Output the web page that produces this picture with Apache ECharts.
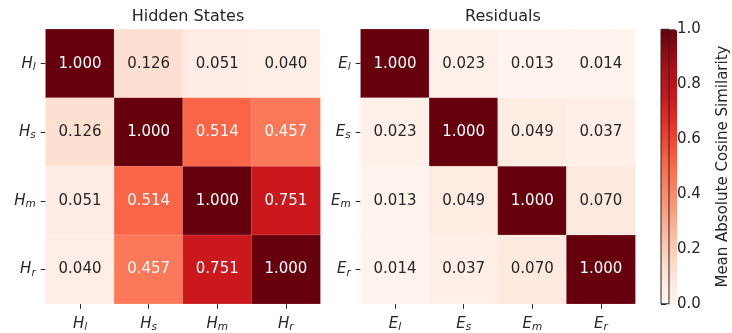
<!DOCTYPE html>
<html>
<head>
<meta charset="utf-8">
<script src="https://cdn.jsdelivr.net/npm/echarts@6/dist/echarts.min.js"></script>
<style>
  html, body { margin: 0; padding: 0; background: #fff; }
  #chart { width: 732px; height: 333px; }
</style>
</head>
<body>
<div id="chart"></div>
<script>
// Tick labels: letter + subscript, written as "Letter_sub"
const hiddenTicks = ['H_l', 'H_s', 'H_m', 'H_r'];
const residualTicks = ['E_l', 'E_s', 'E_m', 'E_r'];

// Mean absolute cosine similarity matrices (row-major, rows top to bottom)
const hiddenStates = [
  [1.000, 0.126, 0.051, 0.040],
  [0.126, 1.000, 0.514, 0.457],
  [0.051, 0.514, 1.000, 0.751],
  [0.040, 0.457, 0.751, 1.000]
];
const residuals = [
  [1.000, 0.023, 0.013, 0.014],
  [0.023, 1.000, 0.049, 0.037],
  [0.013, 0.049, 1.000, 0.070],
  [0.014, 0.037, 0.070, 1.000]
];

const panelTitles = ['Hidden States', 'Residuals'];
const colorbarTitle = 'Mean Absolute Cosine Similarity';
const colorbarMin = 0, colorbarMax = 1, colorbarStep = 0.2;

// "Reds" sequential palette
const reds = ['#fff5f0', '#fee0d2', '#fcbba1', '#fc9272', '#fb6a4a', '#ef3b2c', '#cb181d', '#a50f15', '#67000d'];

const FONT = 'DejaVu Sans';
const TEXT = '#262626';

function toCells(matrix) {
  const out = [];
  matrix.forEach((row, r) => row.forEach((v, c) => {
    out.push({
      value: [c, r, v],
      label: { color: v > 0.35 ? '#ffffff' : TEXT }
    });
  }));
  return out;
}

function tickLabel(s) {
  const [a, b] = s.split('_');
  return '{m|' + a + '}{s|' + b + '}';
}

const tickRich = {
  m: { fontFamily: FONT, fontStyle: 'italic', fontSize: 15, color: TEXT, lineHeight: 18 },
  s: { fontFamily: FONT, fontStyle: 'italic', fontSize: 10.5, color: TEXT, verticalAlign: 'bottom', lineHeight: 12 }
};

const gridTop = 29.3, gridSize = 274.5;
const grids = [
  { left: 45.7, top: gridTop, width: gridSize, height: gridSize },
  { left: 360.7, top: gridTop, width: gridSize, height: gridSize },
  { left: 661, top: gridTop, width: 16, height: gridSize, show: true, borderColor: '#222', borderWidth: 1, backgroundColor: 'transparent', z: 6 }
];

function catAxis(data, idx, isY) {
  return {
    type: 'category',
    gridIndex: idx,
    data: data,
    inverse: !!isY,
    axisLine: { show: false },
    axisTick: { show: true, alignWithLabel: true, interval: 0, length: 5, lineStyle: { color: TEXT, width: 1 } },
    axisLabel: {
      interval: 0,
      formatter: tickLabel,
      rich: tickRich,
      margin: isY ? 10 : 11
    },
    splitLine: { show: false },
    splitArea: { show: false }
  };
}

function heatSeries(matrix, idx) {
  return {
    type: 'heatmap',
    xAxisIndex: idx,
    yAxisIndex: idx,
    data: toCells(matrix),
    itemStyle: { borderColor: 'rgba(255,255,255,0.35)', borderWidth: 0.5 },
    label: {
      show: true,
      fontFamily: FONT,
      fontSize: 15,
      formatter: p => p.value[2].toFixed(3)
    },
    emphasis: { disabled: true }
  };
}

const option = {
  animation: false,
  backgroundColor: '#ffffff',
  textStyle: { fontFamily: FONT },
  title: panelTitles.map((t, i) => ({
    text: t,
    left: grids[i].left + gridSize / 2,
    top: 4,
    textAlign: 'center',
    textStyle: { fontFamily: FONT, fontSize: 16, fontWeight: 'normal', color: TEXT }
  })),
  grid: grids,
  xAxis: [
    catAxis(hiddenTicks, 0, false),
    catAxis(residualTicks, 1, false),
    { type: 'value', gridIndex: 2, show: false, min: 0, max: 1 }
  ],
  yAxis: [
    catAxis(hiddenTicks, 0, true),
    catAxis(residualTicks, 1, true),
    {
      type: 'value',
      gridIndex: 2,
      position: 'right',
      min: colorbarMin,
      max: colorbarMax,
      interval: colorbarStep,
      axisLine: { show: false },
      axisTick: { show: true, length: 5, lineStyle: { color: TEXT } },
      axisLabel: { fontFamily: FONT, fontSize: 15, color: TEXT, margin: 8, formatter: v => v.toFixed(1) },
      splitLine: { show: false },
      name: colorbarTitle,
      nameLocation: 'middle',
      nameRotate: 90,
      nameGap: 47,
      nameTextStyle: { fontFamily: FONT, fontSize: 15, color: TEXT }
    }
  ],
  visualMap: {
    type: 'continuous',
    min: colorbarMin,
    max: colorbarMax,
    seriesIndex: [0, 1],
    calculable: false,
    hoverLink: false,
    orient: 'vertical',
    left: 661,
    top: gridTop,
    itemWidth: 16,
    itemHeight: gridSize,
    padding: 0,
    inRange: { color: reds }
  },
  series: [
    heatSeries(hiddenStates, 0),
    heatSeries(residuals, 1),
    { type: 'scatter', xAxisIndex: 2, yAxisIndex: 2, data: [], silent: true }
  ]
};

const chart = echarts.init(document.getElementById('chart'), null, { renderer: 'canvas' });
chart.setOption(option);
</script>
</body>
</html>
